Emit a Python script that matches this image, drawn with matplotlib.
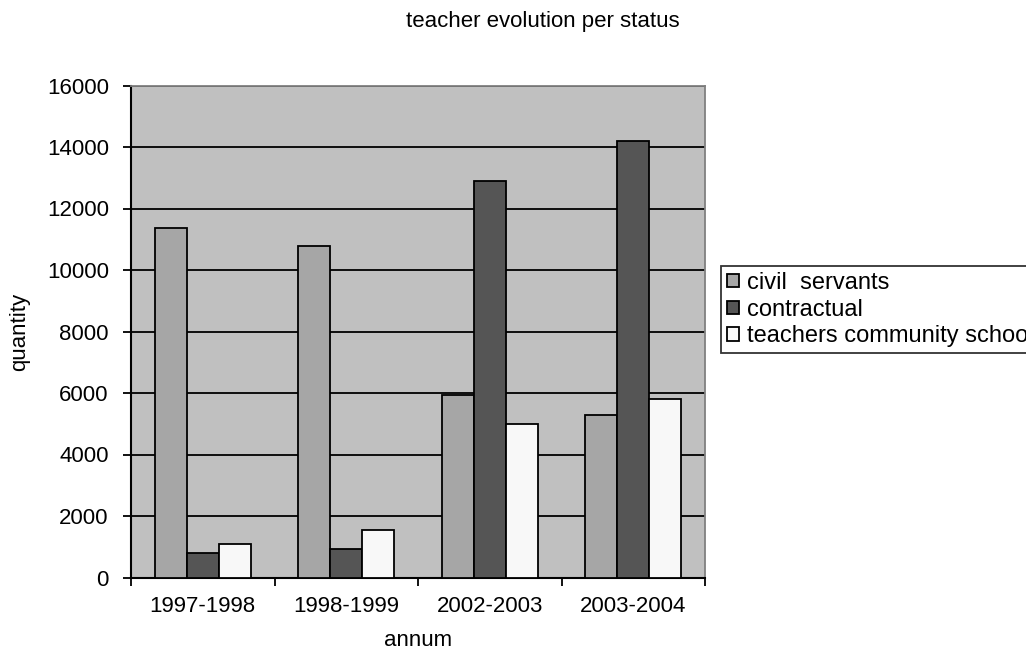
import matplotlib
matplotlib.use("Agg")
import matplotlib.pyplot as plt
import numpy as np

categories = ["1997-1998", "1998-1999", "2002-2003", "2003-2004"]
series_names = ["civil  servants", "contractual", "teachers community school"]
civil_servants = [11350, 10780, 5950, 5300]
contractual = [800, 920, 12880, 14200]
teachers_community = [1100, 1550, 5000, 5800]
y_ticks = [0, 2000, 4000, 6000, 8000, 10000, 12000, 14000, 16000]

plt.rcParams['font.family'] = ['Liberation Sans', 'DejaVu Sans']

W, H = 1026, 658
fig = plt.figure(figsize=(W / 100, H / 100), dpi=100)
L, R, T, B = 131, 705, 85.5, 577.5
ax = fig.add_axes([L / W, (H - B) / H, (R - L) / W, (B - T) / H])
ax.set_facecolor("#c0c0c0")

x = np.arange(len(categories))
w = 0.222
colors = ["#a6a6a6", "#555555", "#f8f8f8"]
data = [civil_servants, contractual, teachers_community]
handles = []
for i, (vals, c, name) in enumerate(zip(data, colors, series_names)):
    b = ax.bar(x + (i - 1) * w, vals, width=w, color=c, edgecolor="black",
               linewidth=1.3, zorder=3, label=name)
    handles.append(b)

ax.set_xlim(-0.5, len(categories) - 0.5)
ax.set_ylim(0, 16000)
ax.set_yticks(y_ticks)
ax.set_yticklabels([str(t) for t in y_ticks])
ax.yaxis.grid(True, color="black", linewidth=1.3, zorder=1)
ax.set_axisbelow(True)

fs = 16
ax.set_xticks(x)
ax.set_xticklabels(categories)
ax.set_xticks(np.arange(len(categories) + 1) - 0.5, minor=True)
ax.tick_params(axis="x", which="major", length=0, pad=13, labelsize=fs)
ax.tick_params(axis="x", which="minor", length=6, width=1.3, direction="out")
ax.tick_params(axis="y", length=6, width=1.3, direction="out", pad=10, labelsize=fs)

for s in ["top", "right"]:
    ax.spines[s].set_color("#808080")
    ax.spines[s].set_linewidth(1.3)
for s in ["left", "bottom"]:
    ax.spines[s].set_color("black")
    ax.spines[s].set_linewidth(1.5)

ax.set_xlabel("annum", fontsize=fs, va="center")
ax.xaxis.set_label_coords(0.5, (B - 641) / (B - T))
ax.set_ylabel("quantity", fontsize=fs, va="center")
ax.yaxis.set_label_coords((20 - L) / (R - L), 0.5)

fig.text(543 / W, 1 - 22 / H, "teacher evolution per status", ha="center",
         va="center", fontsize=fs)

leg = fig.legend(handles=handles, labels=series_names, loc="upper left",
                 bbox_to_anchor=(721 / W, 1 - 266 / H), fontsize=17,
                 frameon=True, fancybox=False, edgecolor="black",
                 handlelength=0.5, handleheight=0.5, handletextpad=0.35,
                 borderaxespad=0, borderpad=0.25, labelspacing=0.2)
leg.get_frame().set_linewidth(1.3)
leg.get_frame().set_facecolor("white")

fig.savefig("out.png", dpi=100)
